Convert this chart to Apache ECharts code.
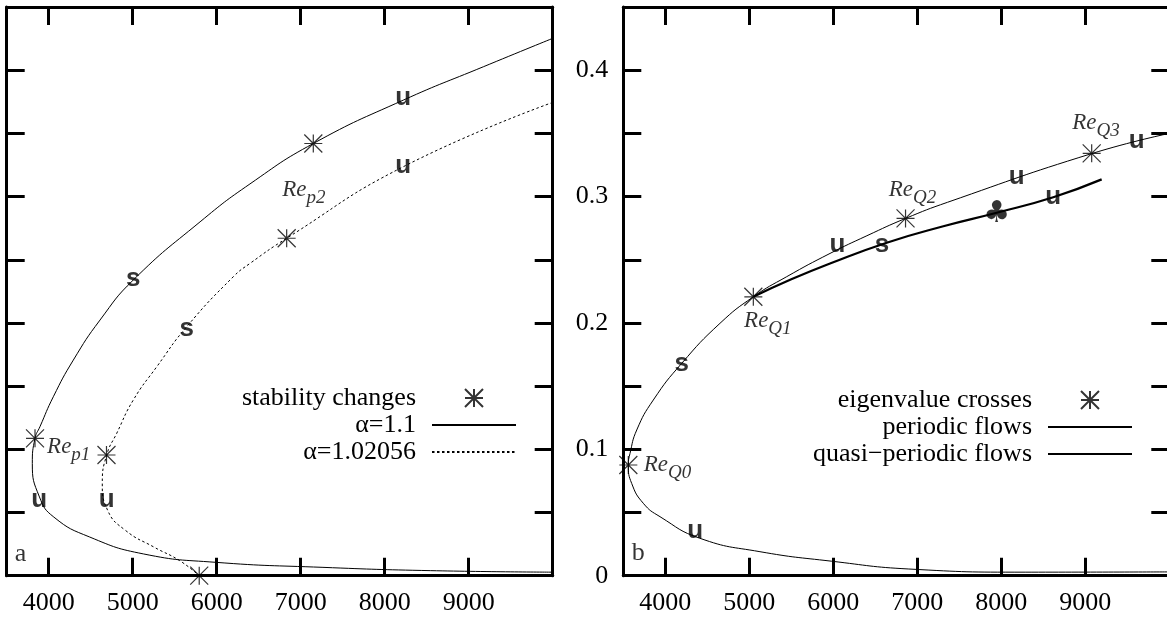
<!DOCTYPE html>
<html>
<head>
<meta charset="utf-8">
<script src="https://cdn.jsdelivr.net/npm/echarts@6/dist/echarts.min.js"></script>
<style>
  html, body { margin: 0; padding: 0; background: #fff; }
  #chart { width: 1167px; height: 620px; }
</style>
</head>
<body>
<div id="chart"></div>
<script>
// axis ticks / labels
const xTicks = [4000, 5000, 6000, 7000, 8000, 9000];
const yTicks = [0.05, 0.1, 0.15, 0.2, 0.25, 0.3, 0.35, 0.4];
const yLabels = [0, 0.1, 0.2, 0.3, 0.4];

// panel a
const alpha11 = [[10000, 0.4252], [9174, 0.4027], [8221, 0.3763], [7150, 0.342], [6396, 0.31], [5802, 0.28],
  [5007, 0.234], [4611, 0.2023], [4293, 0.1706], [4055, 0.1416], [3896, 0.1179], [3837, 0.1087], [3805, 0.0888],
  [3890, 0.0623], [4061, 0.0464], [4488, 0.0306], [5130, 0.0172], [5985, 0.0106], [7265, 0.0066], [8548, 0.004],
  [10000, 0.0028]];
const alpha102 = [[10000, 0.3745], [8221, 0.3236], [6833, 0.267], [6396, 0.2471], [6198, 0.2366], [5643, 0.197],
  [5286, 0.1653], [5007, 0.139], [4810, 0.1127], [4690, 0.0955], [4638, 0.0729], [4702, 0.0517], [4915, 0.0358],
  [5257, 0.0225], [5557, 0.012], [5792, 0]];
const starsA = [[7150, 0.342], [6833, 0.267], [3837, 0.1087], [4688, 0.0955], [5792, 0]];
const marksA = [[8221, 0.378, 'u'], [8221, 0.324, 'u'], [5007, 0.235, 's'], [5643, 0.195, 's'],
  [3888, 0.060, 'u'], [4690, 0.060, 'u']];
const reA = [[3975, 0.102, 'p1'], [6774, 0.305, 'p2']];

// panel b
const periodic = [[10000, 0.350], [9076, 0.334], [7361, 0.2955], [6860, 0.2827], [6400, 0.269], [5961, 0.255],
  [5445, 0.2366], [5048, 0.2207], [4651, 0.1997], [4195, 0.168], [3857, 0.139], [3660, 0.1153], [3580, 0.0968],
  [3560, 0.0876], [3600, 0.073], [3738, 0.0573], [3937, 0.0467], [4412, 0.0296], [5127, 0.019], [5976, 0.0115],
  [6899, 0.0053], [8284, 0.0028], [10000, 0.003]];
const quasi = [[5048, 0.2207], [5500, 0.2345], [5961, 0.247], [6636, 0.2635], [7310, 0.2765], [7945, 0.2872],
  [8619, 0.2995], [9195, 0.3136]];
const starsB = [[3560, 0.0876], [5048, 0.2207], [6860, 0.2827], [9076, 0.3342]];
const marksB = [[8183, 0.316, 'u'], [8619, 0.300, 'u'], [9612, 0.3445, 'u'], [6050, 0.2617, 'u'],
  [6580, 0.2617, 's'], [4195, 0.168, 's'], [4357, 0.0352, 'u']];
const clubB = [[7946, 0.2857, '♣']];
const reB = [[3738, 0.0876, 'Q0'], [4932, 0.2017, 'Q1'], [6655, 0.305, 'Q2'], [8838, 0.358, 'Q3']];
const panelTags = [[3665, 0.0172, 'a'], [3679, 0.0177, 'b']];

const serif = "'Liberation Serif', 'Times New Roman', serif";
const sans = "'Liberation Sans', Arial, sans-serif";
const starPath = 'path://M0,0L20,20M0,20L20,0M10,0L10,20M0,10L20,10';

function xAxis(gridIndex, position, showLabel) {
  return {
    type: 'value', gridIndex, position, min: 3500, max: 10000,
    axisLine: { show: true, onZero: false, lineStyle: { color: '#000', width: 3 } },
    axisTick: { show: true, inside: true, length: 18, customValues: xTicks, lineStyle: { color: '#000', width: 3 } },
    axisLabel: {
      show: showLabel, customValues: xTicks, color: '#000', fontFamily: serif, fontSize: 26, margin: 14,
      formatter: v => String(v)
    },
    splitLine: { show: false }
  };
}

function yAxis(gridIndex, position, showLabel) {
  return {
    type: 'value', gridIndex, position, min: 0, max: 0.45,
    axisLine: { show: true, onZero: false, lineStyle: { color: '#000', width: 3 } },
    axisTick: { show: true, inside: true, length: 18, customValues: yTicks, lineStyle: { color: '#000', width: 3 } },
    axisLabel: {
      show: showLabel, customValues: yLabels, color: '#000', fontFamily: serif, fontSize: 26, margin: 15,
      formatter: v => String(Math.round(v * 10) / 10)
    },
    splitLine: { show: false }
  };
}

function line(name, data, g, width, type) {
  return {
    name, type: 'line', xAxisIndex: g * 2, yAxisIndex: g * 2, data,
    smooth: 0.5, symbol: 'none', showSymbol: false, silent: true,
    lineStyle: { color: '#000', width, type },
    itemStyle: { color: 'rgba(0,0,0,0)', borderColor: 'rgba(0,0,0,0)' }
  };
}

function stars(name, data, g) {
  return {
    name, type: 'scatter', xAxisIndex: g * 2, yAxisIndex: g * 2, data,
    symbol: starPath, symbolSize: 18, symbolKeepAspect: true, clip: false, silent: true,
    itemStyle: { color: 'rgba(0,0,0,0)', borderColor: '#000', borderWidth: 1.2 }, z: 4
  };
}

function texts(data, g, label) {
  return {
    type: 'scatter', xAxisIndex: g * 2, yAxisIndex: g * 2, data,
    symbolSize: 1, silent: true, clip: false,
    itemStyle: { color: 'rgba(0,0,0,0)' },
    label: Object.assign({ show: true, color: '#000' }, label), z: 5
  };
}

const boldLabel = { position: 'inside', formatter: p => p.data[2], fontFamily: sans, fontWeight: 'bold', fontSize: 26 };
const clubLabel = { position: 'inside', formatter: p => p.data[2], fontFamily: "'DejaVu Sans', sans-serif", fontSize: 30 };
const reLabel = {
  position: 'right', distance: 0,
  formatter: p => '{r|Re}{s|' + p.data[2] + '}',
  rich: {
    r: { fontFamily: serif, fontStyle: 'italic', fontSize: 23, color: '#000' },
    s: { fontFamily: serif, fontStyle: 'italic', fontSize: 19, color: '#000', padding: [16, 0, 0, 0] }
  }
};
const tagLabel = { position: 'inside', formatter: p => p.data[2], fontFamily: serif, fontSize: 26 };

const legendBase = {
  orient: 'vertical', align: 'right', itemWidth: 84, itemHeight: 18, itemGap: 1, padding: 0,
  selectedMode: false,
  textStyle: { fontFamily: serif, fontSize: 26, color: '#000', lineHeight: 26, padding: [0, 11, 0, 0] }
};

const chart = echarts.init(document.getElementById('chart'), null, { renderer: 'canvas' });
chart.setOption({
  animation: false,
  backgroundColor: '#fff',
  grid: [
    { left: 6.7, top: 7, width: 546, height: 568.7, containLabel: false, outerBoundsMode: 'none' },
    { left: 623.3, top: 7, width: 546, height: 568.7, containLabel: false, outerBoundsMode: 'none' }
  ],
  xAxis: [xAxis(0, 'bottom', true), xAxis(0, 'top', false), xAxis(1, 'bottom', true), xAxis(1, 'top', false)],
  yAxis: [yAxis(0, 'left', false), yAxis(0, 'right', false), yAxis(1, 'left', true), yAxis(1, 'right', false)],
  legend: [
    Object.assign({}, legendBase, { data: ['stability changes', 'α=1.1', 'α=1.02056'], right: 650, top: 385 }),
    Object.assign({}, legendBase, { data: ['eigenvalue crosses', 'periodic flows', 'quasi−periodic flows'], right: 34, top: 387 })
  ],
  series: [
    line('α=1.1', alpha11, 0, 1, 'solid'),
    line('α=1.02056', alpha102, 0, 1, [2.5, 2.5]),
    stars('stability changes', starsA, 0),
    texts(marksA, 0, boldLabel),
    texts(reA, 0, reLabel),
    texts(panelTags.slice(0, 1), 0, tagLabel),
    line('periodic flows', periodic, 1, 1, 'solid'),
    line('quasi−periodic flows', quasi, 1, 2.2, 'solid'),
    stars('eigenvalue crosses', starsB, 1),
    texts(marksB, 1, boldLabel),
    texts(clubB, 1, clubLabel),
    texts(reB, 1, reLabel),
    texts(panelTags.slice(1), 1, tagLabel)
  ]
});
</script>
</body>
</html>
